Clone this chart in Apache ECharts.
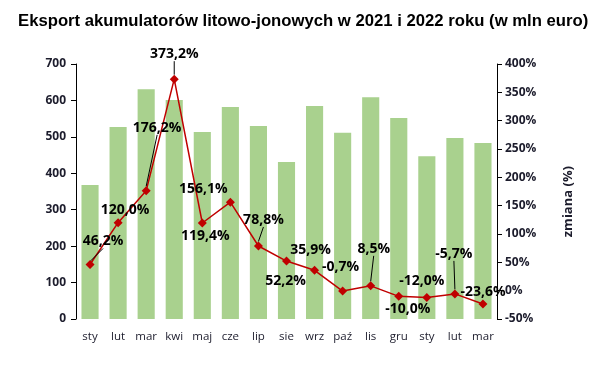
<!DOCTYPE html>
<html><head><meta charset="utf-8">
<script src="https://cdn.jsdelivr.net/npm/echarts@6/dist/echarts.min.js"></script>
<style>html,body{margin:0;padding:0;background:#fff}#c{width:598px;height:365px}</style>
</head><body><div id="c"></div>
<script>
const titleText = 'Eksport akumulatorów litowo-jonowych w 2021 i 2022 roku (w mln euro)';
const categories = ['sty','lut','mar','kwi','maj','cze','lip','sie','wrz','paź','lis','gru','sty','lut','mar'];
const exportValues = [368, 527, 631, 601, 513, 582, 530, 431, 585, 511, 609, 552, 447, 497, 483];
const changeValues = [46.2, 120.0, 176.2, 373.2, 119.4, 156.1, 78.8, 52.2, 35.9, -0.7, 8.5, -10.0, -12.0, -5.7, -23.6];
const leftTicks = {min: 0, max: 700, interval: 100};
const rightTicks = {min: -50, max: 400, interval: 50};

// label layout (offset of label centre from its point) and whether a leader line is drawn
const labelOffsets = [[13,-23],[7,-13],[11,-63],[0,-25],[3,13],[-27,-13],[5,-26],[-1,20],[-4,-20],[-2,-24],[3,-37],[9,13],[-5,-16],[-1,-40],[0,-12]];
const withLeader = [true,false,true,true,false,false,true,false,false,false,true,false,false,true,false];

const chart = echarts.init(document.getElementById('c'), null, {renderer: 'canvas'});
const axisFont = {fontFamily: 'Open Sans', fontWeight: 'bold', fontSize: 12, color: '#1c1c2c'};
const fmt = v => v.toFixed(1).replace('.', ',') + '%';

chart.setOption({
  animation: false,
  title: {
    text: titleText, left: 13, top: 8,
    textStyle: {fontFamily: 'Liberation Sans', fontWeight: 'bold', fontSize: 16.7, color: '#000'}
  },
  graphic: [{
    type: 'text', left: 562, top: 166, rotation: Math.PI / 2,
    style: {text: 'zmiana (%)', font: 'bold 13px "Open Sans"', fill: '#1c1c2c'}
  }],
  grid: {left: 76, right: 101, top: 64, bottom: 46},
  xAxis: {
    type: 'category', data: categories,
    axisLine: {show: false}, axisTick: {show: false},
    axisLabel: {interval: 0, fontFamily: 'Open Sans', fontSize: 11.5, color: '#1c1c2c', margin: 12}
  },
  yAxis: [{
    type: 'value', min: leftTicks.min, max: leftTicks.max, interval: leftTicks.interval,
    axisLine: {show: true, lineStyle: {color: '#000', width: 1}},
    axisTick: {show: true, length: 5, lineStyle: {color: '#000'}},
    splitLine: {show: false},
    axisLabel: Object.assign({margin: 10}, axisFont)
  }, {
    type: 'value', min: rightTicks.min, max: rightTicks.max, interval: rightTicks.interval,
    position: 'right',
    axisLine: {show: true, lineStyle: {color: '#000', width: 1}},
    axisTick: {show: true, length: 5, lineStyle: {color: '#000'}},
    splitLine: {show: false},
    axisLabel: Object.assign({margin: 8, formatter: '{value}%'}, axisFont)
  }],
  series: [{
    type: 'bar', data: exportValues, yAxisIndex: 0,
    barCategoryGap: '39%',
    itemStyle: {color: '#a9d18e'}
  }, {
    type: 'line', yAxisIndex: 1, z: 5,
    data: changeValues.map((v, i) => ({value: v, labelLine: {show: withLeader[i]}})),
    symbol: 'diamond', symbolSize: 9,
    itemStyle: {color: '#c00000'},
    lineStyle: {color: '#c00000', width: 1.5},
    label: {
      show: true, position: 'inside', align: 'center', verticalAlign: 'middle',
      formatter: p => fmt(p.value),
      fontFamily: 'Open Sans', fontWeight: 'bold', fontSize: 14, color: '#000'
    },
    labelLine: {show: false, lineStyle: {color: '#000', width: 1}},
    labelLayout: p => ({dx: labelOffsets[p.dataIndex][0], dy: labelOffsets[p.dataIndex][1]})
  }]
});
</script></body></html>
